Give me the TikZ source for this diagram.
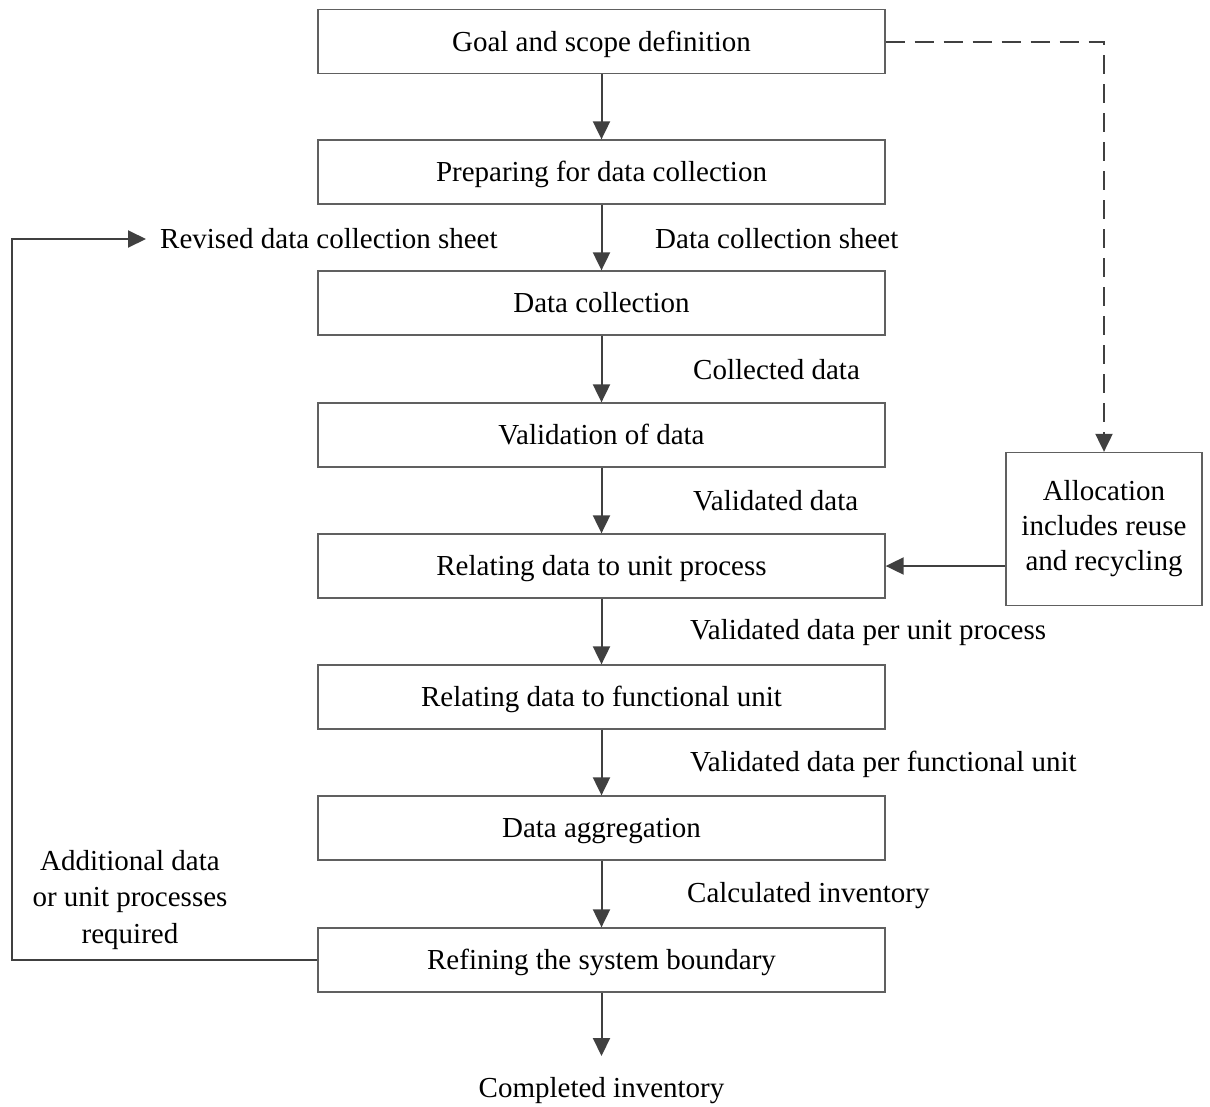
\documentclass[tikz,border=0pt]{standalone}
\usepackage{fontspec}
\setmainfont{Liberation Serif}
\usetikzlibrary{arrows.meta}
\definecolor{boxline}{HTML}{606060}
\definecolor{arr}{HTML}{404040}
\begin{document}
\begin{tikzpicture}[x=1pt,y=-1pt,
  every node/.style={font=\fontsize{29}{35}\selectfont},
  mainbox/.style={draw=boxline,line width=1.3pt,minimum width=567pt,minimum height=64pt,inner sep=0pt,text height=20pt,text depth=1pt},
  sidebox/.style={draw=boxline,line width=1.3pt,minimum width=196pt,minimum height=153pt,inner sep=0pt,align=center},
  flow/.style={draw=arr,line width=2pt,-{Triangle[length=18pt,width=17pt]}},
  lbl/.style={anchor=west,inner sep=0pt}]
\useasboundingbox (0,0) rectangle (1210,1106);
\node[mainbox] (b1) at (601.5,41.5) {Goal and scope definition};
\node[mainbox] (b2) at (601.5,172) {Preparing for data collection};
\node[mainbox] (b3) at (601.5,303) {Data collection};
\node[mainbox] (b4) at (601.5,435) {Validation of data};
\node[mainbox] (b5) at (601.5,566) {Relating data to unit process};
\node[mainbox] (b6) at (601.5,697) {Relating data to functional unit};
\node[mainbox] (b7) at (601.5,828) {Data aggregation};
\node[mainbox] (b8) at (601.5,960) {Refining the system boundary};
\node[sidebox] (al) at (1104,529) {Allocation\\includes reuse\\and recycling};
\node[inner sep=0pt] (ci) at (601.5,1091) {Completed inventory};
\node[lbl] (rv) at (160,239) {Revised data collection sheet};
\node[align=center,inner sep=0pt,font=\fontsize{29}{36.5}\selectfont] (ad) at (130,900) {Additional data\\or unit processes\\required};
\node[lbl] (l2) at (655,239) {Data collection sheet};
\node[lbl] (l3) at (693,370) {Collected data};
\node[lbl] (l4) at (693,501) {Validated data};
\node[lbl] (l5) at (690,633) {Validated data per unit process};
\node[lbl] (l6) at (690,764) {Validated data per functional unit};
\node[lbl] (l7) at (687,896) {Calculated inventory};
\coordinate (end) at (601.5,1056);
\draw[flow] (b1) -- (b2);
\draw[flow] (b2) -- (b3);
\draw[flow] (b3) -- (b4);
\draw[flow] (b4) -- (b5);
\draw[flow] (b5) -- (b6);
\draw[flow] (b6) -- (b7);
\draw[flow] (b7) -- (b8);
\draw[flow] (b8) -- (end);
\draw[flow] (b5.east -| al.west) -- (b5.east);
\draw[flow,dashed,dash pattern=on 19pt off 10pt] (b1.east) -| (al.north);
\draw[flow] (b8.west) -| ([xshift=-148pt]rv.west) -- ([xshift=-14pt]rv.west);
\end{tikzpicture}
\end{document}
